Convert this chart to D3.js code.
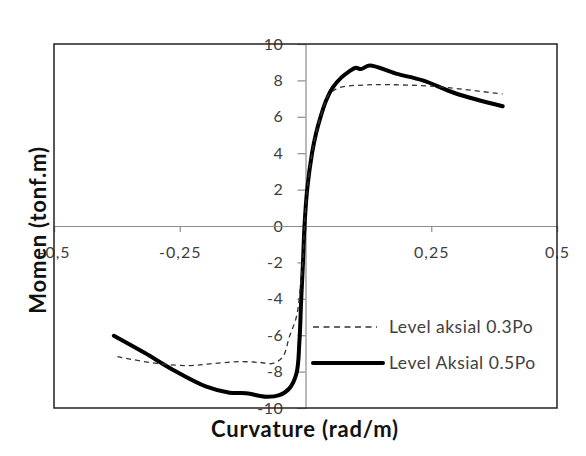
<!DOCTYPE html>
<html><head><meta charset="utf-8">
<script src="https://cdn.jsdelivr.net/npm/d3@7"></script>
<style>body{margin:0;background:#fff;} svg{display:block;}</style>
</head><body>
<svg id="c" width="586" height="456"></svg>
<script>
const xTicks = [-0.5, -0.25, 0, 0.25, 0.5];
const xTickLabels = ["-0,5", "-0,25", "", "0,25", "0,5"];
const yTicks = [-10, -8, -6, -4, -2, 0, 2, 4, 6, 8, 10];
const yTickLabels = ["-10", "-8", "-6", "-4", "-2", "0", "2", "4", "6", "8", "10"];
const seriesNames = ["Level aksial 0.3Po", "Level Aksial 0.5Po"];
const curv03 = [-0.374,-0.296,-0.23,-0.18,-0.131,-0.09,-0.065,-0.045,-0.032,-0.018,-0.01,-0.005,-0.002,0.0033,0.013,0.021,0.030,0.038,0.046,0.067,0.12,0.147,0.246,0.3,0.392];
const mom03 = [-7.18,-7.55,-7.67,-7.55,-7.45,-7.5,-7.55,-7.18,-6.08,-4.98,-3.3,-1.8,0,2,4,5.1,6,6.7,7.2,7.6,7.75,7.77,7.69,7.55,7.25];
const curv05 = [-0.381,-0.32,-0.263,-0.197,-0.151,-0.118,-0.078,-0.052,-0.032,-0.018,-0.012,-0.0086,-0.005,-0.002,0.0033,0.013,0.021,0.030,0.041,0.054,0.071,0.087,0.1,0.11,0.127,0.18,0.233,0.299,0.392];
const mom05 = [-6.03,-6.97,-7.91,-8.83,-9.16,-9.19,-9.38,-9.29,-8.92,-8.1,-6.3,-4.07,-2.0,0,2,4,5.1,6,6.9,7.6,8.15,8.5,8.7,8.62,8.82,8.37,8.0,7.28,6.58];

const svg = d3.select("#c");
const L = 54, R = 557, T = 44, B = 408;
const x = d3.scaleLinear().domain([-0.5, 0.5]).range([L, R]);
const y = d3.scaleLinear().domain([-10, 10]).range([B, T]);
const font = "Lato, 'Open Sans', sans-serif";
const tickCol = "#404040";

// axes through origin
const yAxis = d3.axisLeft(y).tickValues(yTicks).tickSize(8).tickPadding(14).tickFormat((d, i) => yTickLabels[i]);
const gy = svg.append("g").attr("transform", `translate(${x(0)},0)`).call(yAxis);
gy.select(".domain").attr("stroke", "#8c8c8c").attr("stroke-width", 1.2);
gy.selectAll(".tick line").attr("stroke", "#8c8c8c").attr("stroke-width", 1.2);
gy.selectAll(".tick text").attr("fill", tickCol).style("font-family", font).style("font-size", "16px").style("letter-spacing", "0.6px");

const xAxis = d3.axisBottom(x).tickValues(xTicks).tickSize(6).tickPadding(15).tickFormat((d, i) => xTickLabels[i]);
const gx = svg.append("g").attr("transform", `translate(0,${y(0)})`).call(xAxis);
gx.select(".domain").attr("stroke", "#8c8c8c").attr("stroke-width", 1.2);
gx.selectAll(".tick line").attr("stroke", "#8c8c8c").attr("stroke-width", 1.2);
gx.selectAll(".tick text").attr("fill", tickCol).style("font-family", font).style("font-size", "16px").style("letter-spacing", "1px");

// plot border
svg.append("rect").attr("x", L).attr("y", T).attr("width", R - L).attr("height", B - T)
  .attr("fill", "none").attr("stroke", "#222").attr("stroke-width", 1.5);

const line = d3.line().x(d => x(d[0])).y(d => y(d[1])).curve(d3.curveCatmullRom.alpha(0.5));
const d03 = curv03.map((c, i) => [c, mom03[i]]);
const d05 = curv05.map((c, i) => [c, mom05[i]]);

svg.append("path").datum(d05).attr("d", line).attr("fill", "none")
  .attr("stroke", "#000").attr("stroke-width", 4).attr("stroke-linejoin", "round").attr("stroke-linecap", "round");
svg.append("path").datum(d03).attr("d", line).attr("fill", "none")
  .attr("stroke", "#333").attr("stroke-width", 1.3).attr("stroke-dasharray", "5,4");

// legend
const lg = svg.append("g");
lg.append("line").attr("x1", 313).attr("x2", 377).attr("y1", 327).attr("y2", 327)
  .attr("stroke", "#333").attr("stroke-width", 1.3).attr("stroke-dasharray", "6,4.5");
lg.append("line").attr("x1", 313).attr("x2", 383).attr("y1", 363).attr("y2", 363)
  .attr("stroke", "#000").attr("stroke-width", 4).attr("stroke-linecap", "round");
lg.selectAll("text.lt").data(seriesNames).join("text").attr("class", "lt")
  .attr("x", 389).attr("y", (d, i) => i === 0 ? 327 : 363).attr("dy", "0.35em")
  .attr("fill", tickCol).style("font-family", font).style("font-size", "17.5px").style("letter-spacing", "0.5px").text(d => d);

// axis titles
svg.append("text").attr("x", 305).attr("y", 437).attr("text-anchor", "middle")
  .style("font-family", font).style("font-weight", "bold").style("font-size", "22px").style("letter-spacing", "0.8px").attr("fill", "#111")
  .text("Curvature (rad/m)");
svg.append("text").attr("transform", "translate(46,230) rotate(-90)").attr("text-anchor", "middle")
  .style("font-family", font).style("font-weight", "bold").style("font-size", "22px").style("letter-spacing", "0.8px").attr("fill", "#111")
  .text("Momen (tonf.m)");
</script>
</body></html>
